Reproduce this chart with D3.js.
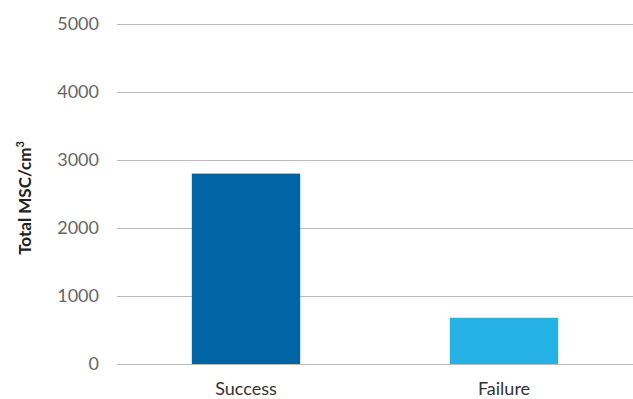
<!DOCTYPE html>
<meta charset="utf-8" />
<style>
    body { margin: 0; background: #fff; }
    text { font-family: Lato, "Open Sans", sans-serif; }
</style>
<body></body>
<script src="https://d3js.org/d3.v7.min.js"></script>
<script>

    var categories = ["Success", "Failure"];
    var values = [2800, 680];
    var colors = ["#0064a5", "#25b0e6"];
    var yTicks = [0, 1000, 2000, 3000, 4000, 5000];

    var svgWidth = 633, svgHeight = 399;
    var margin = {top: 24, right: 0, bottom: 35, left: 117};
    var width = svgWidth - margin.left - margin.right;
    var height = svgHeight - margin.top - margin.bottom;

    var svg = d3.select("body").append("svg")
        .attr("width", svgWidth)
        .attr("height", svgHeight);

    var g = svg.append("g")
        .attr("transform", "translate(" + margin.left + "," + margin.top + ")");

    var x = d3.scaleBand()
        .domain(categories)
        .range([0, width])
        .paddingInner(0.58)
        .paddingOuter(0.29);

    var y = d3.scaleLinear()
        .domain([0, 5000])
        .range([height, 0]);

    // gridlines + y labels
    var yAxis = g.append("g")
        .call(d3.axisLeft(y).tickValues(yTicks).tickSize(-width).tickPadding(18).tickFormat(d3.format("d")));
    yAxis.select(".domain").remove();
    yAxis.selectAll(".tick line").attr("stroke", "#bbbbbb").attr("stroke-width", 1);
    yAxis.selectAll(".tick text")
        .attr("fill", "#666")
        .style("font-size", "18px");

    // bars
    g.selectAll("rect.bar")
        .data(values)
        .enter().append("rect")
        .attr("class", "bar")
        .attr("x", function (d, i) { return x(categories[i]); })
        .attr("y", function (d) { return y(d); })
        .attr("width", x.bandwidth())
        .attr("height", function (d) { return height - y(d); })
        .attr("fill", function (d, i) { return colors[i]; });

    // x labels
    var xAxis = g.append("g")
        .attr("transform", "translate(0," + height + ")")
        .call(d3.axisBottom(x).tickSize(0).tickPadding(18));
    xAxis.select(".domain").remove();
    xAxis.selectAll(".tick text")
        .attr("fill", "#333")
        .style("font-size", "18px");

    // y title
    var title = svg.append("text")
        .attr("transform", "translate(31," + 198 + ") rotate(-90)")
        .attr("text-anchor", "middle")
        .attr("fill", "#222")
        .style("font-size", "17px")
        .style("font-weight", "bold");
    title.append("tspan").text("Total MSC/cm");
    title.append("tspan").attr("dy", "-7").style("font-size", "11px").text("3");

</script>
